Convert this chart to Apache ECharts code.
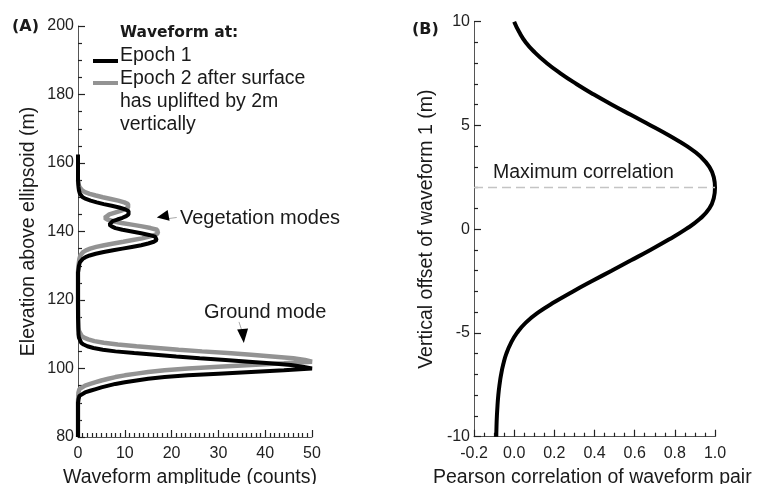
<!DOCTYPE html>
<html><head><meta charset="utf-8">
<script src="https://cdn.jsdelivr.net/npm/echarts@6/dist/echarts.min.js"></script>
<style>html,body{margin:0;padding:0;background:#fff}#c{width:758px;height:484px}</style>
</head><body><div id="c"></div>
<script>
// ---------- Panel A: waveforms (elevation in m, amplitude in counts) ----------
const elevEpoch1 = [80,85,90,91,92,92.5,93,93.5,94,94.5,95,95.5,96,96.5,97,97.5,98,98.5,99,99.5,100,100.5,101,101.5,102,102.5,103,103.5,104,104.5,105,105.5,106,106.5,107,107.5,108,109,110,115,120,125,128,129,130,131,131.5,132,132.5,133,133.5,134,134.5,135,135.5,136,136.5,137,137.5,138,138.5,139,139.5,140,140.5,141,141.5,142,142.5,143,143.5,144,144.5,145,145.5,146,146.5,147,147.5,148,148.5,149,149.5,150,150.5,151,152,153,155,158,160,162.5];
const ampEpoch1 = [0,0,0,0.1,0.3,0.7,1.5,2.6,3.8,5,6.5,8,10,12.5,15,18.5,23.5,30,37,44,50,48,45.5,41,36.5,31.5,26,21,16.5,12,8,5.3,3.3,2,1.2,0.7,0.4,0.2,0.1,0,0,0,0,0.1,0.2,0.4,0.6,1,1.6,2.5,3.8,5.5,7.5,9.5,11.5,13.5,15,16.2,16.8,17,16.5,15.2,13.5,11.5,9.5,8,7.2,6.7,6.8,7.4,8.4,9.5,10.3,10.8,11,10.8,10,8.8,7.2,5.5,4,2.7,1.7,1,0.6,0.4,0.2,0.1,0,0,0,0];
const elevEpoch2 = [80,90,93,94,94.5,95,95.5,96,96.5,97,97.5,98,98.5,99,99.5,100,100.5,101,101.5,102,102.5,103,103.5,104,104.5,105,105.5,106,106.5,107,107.5,108,108.5,109,109.5,110,111,112,120,128,130,131,132,133,133.5,134,134.5,135,135.5,136,136.5,137,137.5,138,138.5,139,139.5,140,140.5,141,141.5,142,142.5,143,143.5,144,144.5,145,145.5,146,146.5,147,147.5,148,148.5,149,149.5,150,150.5,151,151.5,152,152.5,153,154,155];
const ampEpoch2 = [0,0,0.1,0.3,0.7,1.5,2.6,3.8,5,6.5,8,10,12.5,15,18.5,23.5,30,37,44,50,48.5,46,41.5,37,32,26.5,21.5,17,12.5,8.5,5.5,3.5,2.2,1.3,0.8,0.4,0.2,0.1,0,0,0.1,0.2,0.3,0.5,0.7,1.1,1.7,2.6,3.9,5.6,7.6,9.7,11.7,13.7,15.2,16.4,17.1,17.4,16.9,15.5,13.7,11.5,9.3,7.5,6.3,5.7,5.9,6.7,7.9,9.1,10.1,10.7,10.9,10.7,9.9,8.6,7,5.3,3.8,2.5,1.5,0.9,0.5,0.3,0.1,0];

// annotation anchors in data coordinates [amplitude, elevation]
const vegArrowTip = [18.1, 144.4];
const vegArrowTail = [[19.0, 143.7], [21.1, 144.1]];
const groundArrowTip = [35.3, 109.5];
const groundArrowTail = [[34.4, 113.6], [35.1, 110.7]];

// ---------- Panel B: correlation vs vertical offset ----------
const offsetB = [10,9.5,9,8.5,8,7.5,7,6.5,6,5.5,5,4.5,4,3.5,3,2.5,2,1.5,1,0.5,0,-0.5,-1,-1.5,-2,-2.5,-3,-3.5,-4,-4.5,-5,-5.5,-6,-6.5,-7,-7.5,-8,-8.5,-9,-9.5,-10];
const corrB = [0.000,0.025,0.058,0.105,0.163,0.232,0.310,0.395,0.487,0.583,0.680,0.774,0.860,0.928,0.972,0.994,1.000,0.994,0.972,0.925,0.855,0.770,0.678,0.582,0.485,0.388,0.293,0.203,0.122,0.058,0.014,-0.017,-0.039,-0.054,-0.065,-0.073,-0.079,-0.083,-0.086,-0.088,-0.089];
const maxCorrOffset = 2;

// ---------- text ----------
const legendTitle = 'Waveform at:';
const legendLines = ['Epoch 1', 'Epoch 2 after surface', 'has uplifted by 2m', 'vertically'];

const FONT = "'Liberation Sans', Arial, Helvetica, sans-serif";
const BOLD = "'DejaVu Sans', sans-serif";
const TXT = '#1a1a1a';
const AX = '#555';
const TICK = '#222';
const GRAY = '#939393';

function valueAxis(o, minorSplit) {
  return Object.assign({
    type: 'value',
    axisLine: {show: true, onZero: false, lineStyle: {color: AX, width: 1}},
    axisTick: {show: true, inside: true, length: 7, lineStyle: {color: TICK, width: 1.2}},
    minorTick: {show: true, splitNumber: minorSplit, length: 4, lineStyle: {color: TICK, width: 1.2}},
    splitLine: {show: false},
    axisLabel: {fontFamily: FONT, fontSize: 16, color: '#222'}
  }, o);
}

function ttl(left, centerY, text, size, bold) {
  const lh = Math.round(size * 1.15);
  return {text: text, left: left, top: centerY - lh / 2, padding: 0,
    textStyle: {fontFamily: bold ? BOLD : FONT, fontSize: size, fontWeight: bold ? 'bold' : 'normal',
      color: TXT, lineHeight: lh}};
}

const arrowMarkLine = tail => ({
  silent: true, symbol: ['none', 'none'], label: {show: false},
  lineStyle: {color: '#aaa', width: 1, type: 'solid'},
  data: [[{coord: tail[0]}, {coord: tail[1]}]]
});

const chart = echarts.init(document.getElementById('c'));
chart.setOption({
  backgroundColor: '#fff',
  animation: false,
  title: [
    ttl(12, 27, '(A)', 16, true),
    ttl(412, 30, '(B)', 16, true),
    ttl(120, 33, legendTitle, 15.5, true),
    ttl(120, 56, legendLines[0], 19.5),
    ttl(120, 79, legendLines[1], 19.5),
    ttl(120, 102, legendLines[2], 19.5),
    ttl(120, 125, legendLines[3], 19.5),
    ttl(63, 478, 'Waveform amplitude (counts)', 19.5),
    ttl(433, 478, 'Pearson correlation of waveform pair', 19.5),
    ttl(493, 173, 'Maximum correlation', 19.5),
    ttl(180, 218, 'Vegetation modes', 20),
    ttl(204, 312, 'Ground mode', 20)
  ],
  legend: {
    orient: 'vertical', left: 88, top: 54, itemWidth: 25, itemHeight: 4, itemGap: 18,
    icon: 'rect', selectedMode: false, formatter: () => '',
    textStyle: {fontSize: 4, lineHeight: 4},
    data: ['Epoch 1', 'Epoch 2']
  },
  grid: [
    {left: 78, top: 26, width: 234, height: 411},
    {left: 474, top: 21.7, width: 241, height: 415}
  ],
  xAxis: [
    valueAxis({gridIndex: 0, min: 0, max: 50, interval: 10,
      axisLabel: {fontFamily: FONT, fontSize: 16, color: '#222', margin: 9}}, 10),
    valueAxis({gridIndex: 1, min: -0.2, max: 1.0, interval: 0.2,
      axisLabel: {fontFamily: FONT, fontSize: 16, color: '#222', margin: 9,
        formatter: v => v.toFixed(1)}}, 4)
  ],
  yAxis: [
    valueAxis({gridIndex: 0, min: 80, max: 200, interval: 20,
      name: 'Elevation above ellipsoid (m)', nameLocation: 'middle', nameRotate: 90, nameGap: 39,
      nameTextStyle: {fontFamily: FONT, fontSize: 19.5, color: TXT},
      axisLabel: {fontFamily: FONT, fontSize: 16, color: '#222', margin: 4}}, 4),
    valueAxis({gridIndex: 1, min: -10, max: 10, interval: 5,
      name: 'Vertical offset of waveform 1 (m)', nameLocation: 'middle', nameRotate: 90, nameGap: 37,
      nameTextStyle: {fontFamily: FONT, fontSize: 19.5, color: TXT},
      axisLabel: {fontFamily: FONT, fontSize: 16, color: '#222', margin: 4}}, 5)
  ],
  series: [
    {name: 'Epoch 2', type: 'line', xAxisIndex: 0, yAxisIndex: 0, showSymbol: false, clip: false,
      data: elevEpoch2.map((e, i) => [ampEpoch2[i], e]),
      itemStyle: {color: GRAY}, lineStyle: {color: GRAY, width: 4.5}},
    {name: 'Epoch 1', type: 'line', xAxisIndex: 0, yAxisIndex: 0, showSymbol: false, clip: false,
      data: elevEpoch1.map((e, i) => [ampEpoch1[i], e]),
      itemStyle: {color: '#000'}, lineStyle: {color: '#000', width: 4},
      markPoint: {
        silent: true, label: {show: false}, itemStyle: {color: '#000'},
        data: [
          {coord: vegArrowTip, symbol: 'triangle', symbolSize: [11, 12], symbolRotate: 100},
          {coord: groundArrowTip, symbol: 'triangle', symbolSize: [11, 14], symbolRotate: 185}
        ]
      },
      markLine: {
        silent: true, symbol: ['none', 'none'], label: {show: false},
        lineStyle: {color: '#aaa', width: 1, type: 'solid'},
        data: [
          [{coord: vegArrowTail[0]}, {coord: vegArrowTail[1]}],
          [{coord: groundArrowTail[0]}, {coord: groundArrowTail[1]}]
        ]
      }},
    {name: 'Correlation', type: 'line', xAxisIndex: 1, yAxisIndex: 1, showSymbol: false, smooth: 0.5,
      data: offsetB.map((o, i) => [corrB[i], o]),
      itemStyle: {color: '#000'}, lineStyle: {color: '#000', width: 4},
      markLine: {
        silent: true, symbol: ['none', 'none'], label: {show: false},
        lineStyle: {color: '#c4c4c4', width: 1.3, type: [9, 5]},
        data: [[{coord: [-0.2, maxCorrOffset]}, {coord: [1.0, maxCorrOffset]}]]
      }}
  ]
});
</script>
</body></html>
